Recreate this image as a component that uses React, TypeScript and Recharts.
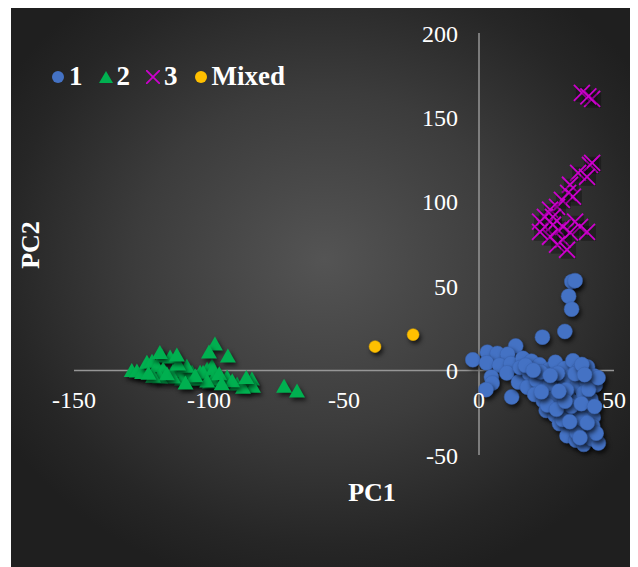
import {
  ScatterChart,
  Scatter,
  XAxis,
  YAxis,
  ReferenceLine,
  ReferenceDot,
} from "recharts";

const SERIF = '"Liberation Serif", "Times New Roman", serif';

const pc1Ticks = [-150, -100, -50, 0, 50];
const pc2Ticks = [-50, 0, 50, 100, 150, 200];

// PC1 / PC2 scores per group
const group1: [number, number][] = [
  [34.4, 52.7], [35.6, 53.3], [33.2, 44.1], [34.3, 36.4], [31.8, 23.2], [23.5, 19.8], [13.6, 14.6],
  [-2.3, 6.4], [3.1, 10.9], [6.8, 10.2], [10.6, 9.7], [2.8, 4.6], [7.6, 3.2], [11.8, 4.1],
  [16.2, 7.3], [19.4, 5.6], [4.6, -3.8], [4.9, -7.4], [2.6, -11.3], [12.1, -15.6], [10.3, -1.4],
  [14.6, -6.8], [15.2, 1.8], [18.7, -1.9], [22.4, 3.4], [25.9, 0.7], [28.3, 4.9], [31.6, 1.2],
  [34.8, 5.8], [36.9, 0.4], [40.2, 2.1], [42.6, -3.2], [17.9, -9.8], [21.3, -5.6], [24.7, -10.4],
  [27.2, -4.3], [30.5, -8.1], [33.8, -3.6], [36.4, -8.9], [39.7, -6.2], [43.1, -8.6], [20.6, -14.1],
  [23.8, -17.9], [26.9, -13.8], [29.4, -19.2], [32.7, -14.6], [35.3, -18.7], [38.6, -13.2],
  [41.4, -16.9], [24.9, -23.6], [28.1, -26.2], [31.3, -22.7], [34.6, -27.4], [37.2, -23.1],
  [40.8, -21.8], [42.3, -27.6], [29.8, -31.4], [33.1, -34.2], [36.7, -31.9], [39.4, -36.3],
  [42.1, -32.8], [32.6, -38.6], [35.9, -41.2], [38.8, -43.7], [41.7, -40.4], [44.2, -42.9],
  [43.4, -37.1], [36.2, -36.5], [26.2, -7.8], [29.1, -1.6], [32.4, -11.4], [35.6, -1.8],
  [38.1, 3.6], [22.8, -0.8], [27.6, -16.4], [30.9, -28.9], [38.3, -28.6], [40.6, -11.1],
  [34.2, -21.1], [44.1, -4.2], [17.2, 3.1], [20.1, 0.2], [25.3, -20.4], [28.7, -22.9],
  [31.9, -18.1], [37.9, -19.6], [33.6, -30.3], [40.1, -30.9], [37.4, -39.8], [42.8, -21.3],
  [23.1, -12.6], [26.4, -2.9], [39.1, -2.4], [29.6, -12.2],
];

const group2: [number, number][] = [
  [-128.6, -0.2], [-126.7, -0.6], [-124.8, -1.4], [-123.0, 4.7], [-121.1, 5.3], [-117.4, 8.3],
  [-114.4, 7.7], [-119.3, 2.4], [-117.0, 0.6], [-113.3, -0.6], [-110.0, -0.6], [-106.3, -1.2],
  [-103.3, -1.2], [-100.7, 0.6], [-98.9, 2.4], [-110.0, -5.3], [-113.3, -4.1], [-118.1, -4.1],
  [-120.7, -3.6], [-106.3, -5.3], [-103.3, -5.3], [-99.6, -7.1], [-102.2, -1.2], [-98.5, 0.6],
  [-98.5, -5.3], [-93.3, -4.1], [-89.6, -8.3], [-85.9, -7.1], [-84.1, -5.3], [-83.7, -9.5],
  [-87.4, -10.1], [-100.7, -6.5], [-97.8, 15.4], [-100.0, 10.7], [-93.0, 8.3], [-72.2, -9.5],
  [-67.4, -12.4], [-115.6, -2.1], [-108.2, 2.3], [-111.4, 3.6], [-105.1, -3.4], [-96.2, -2.2],
  [-91.4, -6.3], [-95.3, -8.1], [-86.2, -4.4], [-122.4, -1.8], [-108.7, -7.6], [-118.2, 10.4],
  [-111.9, 8.9],
];

const group3: [number, number][] = [
  [38.1, 164.5], [41.9, 161.0], [40.5, 162.5], [41.1, 121.9], [41.9, 123.1], [36.7, 117.2],
  [40.0, 114.8], [33.7, 110.1], [33.0, 105.3], [34.8, 103.0], [30.7, 101.2], [28.9, 97.0],
  [26.3, 95.3], [24.4, 91.1], [27.4, 91.1], [22.6, 88.2], [24.4, 85.2], [27.4, 86.4],
  [29.3, 83.4], [31.1, 85.2], [35.6, 88.2], [37.4, 85.2], [40.0, 82.2], [33.7, 81.7],
  [31.1, 77.5], [28.9, 74.6], [32.6, 71.6], [26.3, 79.3], [22.6, 82.2],
];

const mixed: [number, number][] = [
  [-38.5, 14.2],
  [-24.4, 21.3],
];

const toPoints = (rows: [number, number][]) => rows.map(([x, y]) => ({ x, y }));

const BLUE = "#4472C4";
const GREEN = "#00B050";
const MAGENTA = "#CC00CC";
const GOLD = "#FFC000";
const SHADOW = "drop-shadow(2px 3px 2px rgba(0,0,0,0.65))";

const Dot = (color: string, r: number, edge: string) => (props: any) => (
  <circle cx={props.cx} cy={props.cy} r={r} fill={color} stroke={edge} strokeWidth={0.5} style={{ filter: SHADOW }} />
);

const Tri = (props: any) => {
  const { cx, cy } = props;
  return (
    <path
      d={`M${cx},${cy - 8} L${cx + 8},${cy + 6} L${cx - 8},${cy + 6} Z`}
      fill={GREEN}
      style={{ filter: SHADOW }}
    />
  );
};

const Cross = (props: any) => {
  const { cx, cy } = props;
  return (
    <g>
      <rect x={cx - 6} y={cy - 6} width={15} height={15} fill="rgba(0,0,0,0.28)" />
      <path
        d={`M${cx - 8},${cy - 8} L${cx + 8},${cy + 8} M${cx + 8},${cy - 8} L${cx - 8},${cy + 8}`}
        stroke={MAGENTA}
        strokeWidth={1.8}
      />
    </g>
  );
};

const tickLabel = { fill: "#ffffff", fontSize: 24, fontFamily: SERIF };

const legendItems = [
  { name: "1", icon: <circle cx={7} cy={7} r={6} fill={BLUE} /> },
  { name: "2", icon: <path d="M7,1 L14,13 L0,13 Z" fill={GREEN} /> },
  { name: "3", icon: <path d="M0,0 L14,14 M14,0 L0,14" stroke={MAGENTA} strokeWidth={1.8} /> },
  { name: "Mixed", icon: <circle cx={7} cy={7} r={6} fill={GOLD} /> },
];

export default function App() {
  return (
    <div style={{ position: "relative", width: 630, height: 559 }}>
      <div
        style={{
          position: "absolute",
          left: 3,
          top: 0,
          width: 627,
          height: 559,
          background:
            "radial-gradient(ellipse 60% 60% at 50% 45%, #545454 0%, #3c3c3c 50%, #262626 85%, #1f1f1f 100%)",
        }}
      />
      <ScatterChart
        width={630}
        height={559}
        margin={{ top: 25, right: 24, bottom: 112, left: 66 }}
        style={{ position: "absolute", left: 0, top: 0 }}
      >
        <XAxis type="number" dataKey="x" domain={[-150, 50]} ticks={pc1Ticks} hide />
        <YAxis type="number" dataKey="y" domain={[-50, 200]} ticks={pc2Ticks} hide />
        <ReferenceLine y={0} stroke="#969696" strokeWidth={1.5} />
        <ReferenceLine x={0} stroke="#969696" strokeWidth={1.5} />
        {pc1Ticks.map((t) => (
          <ReferenceDot
            key={`x${t}`}
            x={t}
            y={0}
            r={0}
            fill="none"
            stroke="none"
            label={{ value: String(t), position: "bottom", offset: 20, ...tickLabel }}
          />
        ))}
        {pc2Ticks.map((t) => (
          <ReferenceDot
            key={`y${t}`}
            x={0}
            y={t}
            r={0}
            fill="none"
            stroke="none"
            label={{ value: String(t), position: "left", offset: 21, ...tickLabel }}
          />
        ))}
        <Scatter name="1" data={toPoints(group1)} shape={Dot(BLUE, 7.5, "#3a63ad")} isAnimationActive={false} />
        <Scatter name="2" data={toPoints(group2)} shape={Tri} isAnimationActive={false} />
        <Scatter name="3" data={toPoints(group3)} shape={Cross} isAnimationActive={false} />
        <Scatter name="Mixed" data={toPoints(mixed)} shape={Dot(GOLD, 6, "#e0a800")} isAnimationActive={false} />
      </ScatterChart>

      <div
        style={{
          position: "absolute",
          left: 43,
          top: 53,
          display: "flex",
          alignItems: "center",
          gap: 16,
          fontFamily: SERIF,
          fontWeight: "bold",
          fontSize: 27,
          color: "#ffffff",
        }}
      >
        {legendItems.map((it) => (
          <div key={it.name} style={{ display: "flex", alignItems: "center", gap: 4 }}>
            <svg width={14} height={14}>{it.icon}</svg>
            <span>{it.name}</span>
          </div>
        ))}
      </div>

      <svg
        width={630}
        height={559}
        style={{ position: "absolute", left: 0, top: 0, pointerEvents: "none" }}
      >
        <text
          x={364}
          y={484}
          textAnchor="middle"
          dominantBaseline="central"
          fill="#ffffff"
          fontFamily={SERIF}
          fontWeight="bold"
          fontSize={26}
        >
          PC1
        </text>
        <text
          x={22}
          y={237}
          transform="rotate(-90, 22, 237)"
          textAnchor="middle"
          dominantBaseline="central"
          fill="#ffffff"
          fontFamily={SERIF}
          fontWeight="bold"
          fontSize={26}
        >
          PC2
        </text>
      </svg>
    </div>
  );
}
